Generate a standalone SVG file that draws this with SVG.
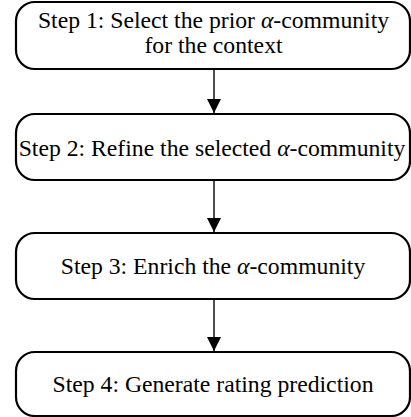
<svg xmlns="http://www.w3.org/2000/svg" width="411" height="417" viewBox="0 0 411 417">
<style>
.box{fill:#fff;stroke:#000;stroke-width:2.2}
.t{font-family:'Liberation Serif','Times New Roman',serif;font-size:23.7px;fill:#000;text-anchor:middle}
.c{stroke:#000;stroke-width:1.4;fill:none}
</style>
<defs>
<marker id="ah" markerWidth="14" markerHeight="14" refX="14" refY="7" orient="auto" markerUnits="userSpaceOnUse">
<path d="M0,0 L14,7 L0,14 Z" fill="#000"/>
</marker>
</defs>
<g id="connectors">
<line class="c" x1="214" y1="69" x2="214" y2="113" marker-end="url(#ah)"/>
<line class="c" x1="214" y1="180" x2="214" y2="232" marker-end="url(#ah)"/>
<line class="c" x1="214" y1="299" x2="214" y2="351" marker-end="url(#ah)"/>
</g>
<g id="step1">
<rect class="box" x="16" y="2" width="394" height="67" rx="19"/>
<text class="t" x="213.5" y="28">Step 1: Select the prior <tspan font-style="italic">α</tspan>-community</text>
<text class="t" x="213.5" y="53">for the context</text>
</g>
<g id="step2">
<rect class="box" x="16" y="114" width="394" height="66" rx="19"/>
<text class="t" x="212" y="156">Step 2: Refine the selected <tspan font-style="italic">α</tspan>-community</text>
</g>
<g id="step3">
<rect class="box" x="16" y="233" width="394" height="66" rx="19"/>
<text class="t" x="213" y="274">Step 3: Enrich the <tspan font-style="italic">α</tspan>-community</text>
</g>
<g id="step4">
<rect class="box" x="16" y="352" width="394" height="64" rx="19"/>
<text class="t" x="213" y="392">Step 4: Generate rating prediction</text>
</g>
</svg>
